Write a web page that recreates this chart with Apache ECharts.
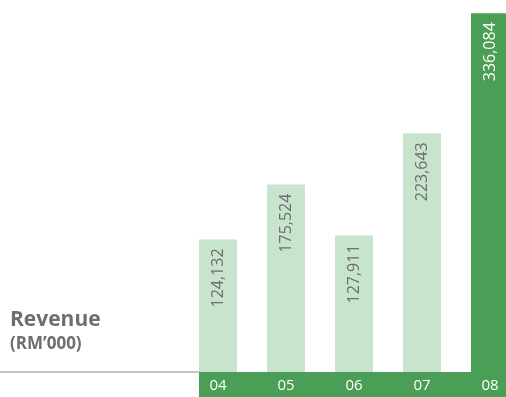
<!DOCTYPE html>
<html>
<head>
<meta charset="utf-8">
<script src="https://cdn.jsdelivr.net/npm/echarts@6/dist/echarts.min.js"></script>
<style>
  html, body { margin: 0; padding: 0; background: #ffffff; }
  #chart { width: 506px; height: 397px; }
</style>
</head>
<body>
<div id="chart"></div>
<script>
// Revenue by financial year (RM'000)
const years = ['04', '05', '06', '07', '08'];
const revenue = [124132, 175524, 127911, 223643, 336084];

const DARK = '#4a9e55';
const LIGHT = '#c8e4cc';
const TEXT = '#6d6e71';

const chart = echarts.init(document.getElementById('chart'), null, { renderer: 'canvas' });

const barData = revenue.map((v, i) => {
  const latest = i === revenue.length - 1;
  return {
    value: v,
    itemStyle: { color: latest ? DARK : LIGHT },
    label: { color: latest ? '#ffffff' : TEXT }
  };
});

chart.setOption({
  animation: false,
  // plot area runs past the right edge so the latest bar is clipped
  grid: {
    left: 184, width: 340, top: 9, bottom: 25,
    containLabel: false,
    outerBoundsMode: 'none'
  },
  xAxis: {
    type: 'category',
    data: years,
    z: 10,
    axisLine: { show: false },
    axisTick: { show: false },
    axisLabel: {
      color: '#ffffff',
      fontFamily: 'Open Sans',
      fontSize: 15,
      margin: 6
    }
  },
  yAxis: {
    type: 'value',
    min: 0,
    max: 340000,
    show: false,
    splitLine: { show: false }
  },
  graphic: [
    {
      type: 'rect',
      z: -1,
      shape: { x: 199, y: 372, width: 307, height: 25 },
      style: { fill: DARK }
    },
    {
      type: 'rect',
      z: -1,
      shape: { x: 0, y: 371, width: 199, height: 2 },
      style: { fill: '#c4c4c4' }
    },
    {
      type: 'text',
      left: 10,
      top: 310,
      style: {
        text: 'Revenue',
        fill: TEXT,
        font: 'bold 21px "Open Sans"'
      }
    },
    {
      type: 'text',
      left: 10,
      top: 336,
      style: {
        text: '(RM’000)',
        fill: TEXT,
        font: 'bold 17px "Open Sans"'
      }
    }
  ],
  series: [{
    type: 'bar',
    data: barData,
    barWidth: 38,
    label: {
      show: true,
      position: 'insideTop',
      rotate: 90,
      align: 'right',
      verticalAlign: 'middle',
      distance: 9,
      fontFamily: 'Open Sans',
      fontSize: 16,
      formatter: p => p.value.toLocaleString('en-US')
    }
  }]
});
</script>
</body>
</html>
